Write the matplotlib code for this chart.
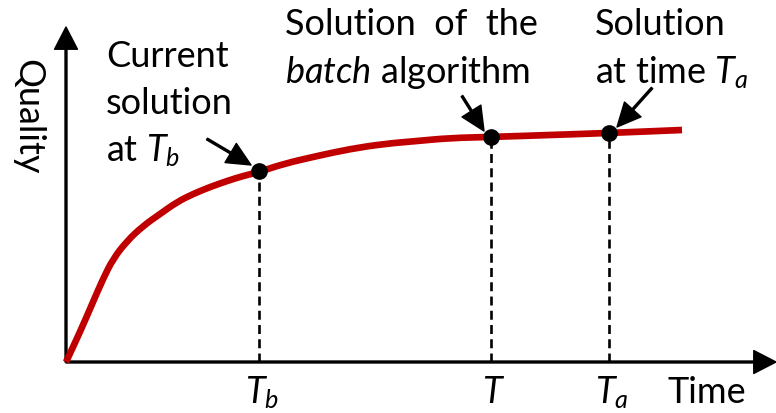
import matplotlib
matplotlib.use('Agg')
import matplotlib.pyplot as plt
from matplotlib.path import Path
from matplotlib.patches import PathPatch

plt.rcParams['font.family'] = ['Lato', 'DejaVu Sans']
plt.rcParams['mathtext.fontset'] = 'custom'
plt.rcParams['mathtext.rm'] = 'Lato'
plt.rcParams['mathtext.it'] = 'Lato:italic'

# quality curve (time, quality)
curve_t = [0, 14, 27, 37, 47, 61, 77, 94, 111, 127, 144, 161, 177, 193,
           217, 251, 284, 317, 351, 384, 424, 484, 543, 616]
curve_q = [0, 30, 60, 83, 103, 121, 136, 148, 160, 168, 175, 181, 186, 190,
           198, 206, 213, 218, 221, 224, 225, 227, 229, 232]

# marked solutions
sol_t = [193, 425, 543]
sol_q = [191, 225, 229]
sol_labels = ['$T_b$', '$T$', '$T_a$']

RED = '#C00000'
FS = 26


def smooth_path(xs, ys):
    # quadratic pieces through the midpoints, read points as control points
    pts = list(zip(xs, ys))
    mid = lambda a, b: ((a[0] + b[0]) / 2, (a[1] + b[1]) / 2)
    verts = [pts[0], mid(pts[0], pts[1])]
    codes = [Path.MOVETO, Path.LINETO]
    for i in range(1, len(pts) - 1):
        verts += [pts[i], mid(pts[i], pts[i + 1])]
        codes += [Path.CURVE3, Path.CURVE3]
    verts.append(pts[-1])
    codes.append(Path.LINETO)
    return Path(verts, codes)


fig = plt.figure(figsize=(7.76, 4.14), dpi=100)
ax = fig.add_axes([0, 0, 1, 1])
ax.set_xlim(-66, 710)
ax.set_ylim(-51, 363)
ax.axis('off')

# axes with arrow heads
axprops = dict(width=1.4, headwidth=16.5, headlength=16, facecolor='black',
               edgecolor='black', shrink=0)
ax.annotate('', xy=(0, 335), xytext=(0, 0), arrowprops=axprops)
ax.annotate('', xy=(710, 0), xytext=(0, 0), arrowprops=axprops)

ax.add_patch(PathPatch(smooth_path(curve_t, curve_q), fill=False,
                       edgecolor=RED, lw=4.8, capstyle='butt',
                       joinstyle='round', zorder=3))

for t, q, lab in zip(sol_t, sol_q, sol_labels):
    ax.plot([t, t], [0, q], color='black', lw=1.9, ls=(0, (3.4, 2)), zorder=2)
    ax.text(t + 3, -40, lab, fontsize=FS, ha='center', va='baseline')
ax.plot(sol_t, sol_q, 'o', color='black', ms=11, zorder=4)

ax.text(-38, 246, 'Quality', fontsize=FS, rotation=270, ha='center', va='center')
ax.text(602, -40, 'Time', fontsize=FS, ha='left', va='baseline')

ax.text(40, 296, 'Current', fontsize=FS, va='baseline')
ax.text(40, 249, 'solution', fontsize=FS, va='baseline')
ax.text(40, 202, 'at $T_b$', fontsize=FS, va='baseline')

ax.text(219, 328, 'Solution  of  the', fontsize=FS, va='baseline')
ax.text(219, 280, r'$\mathit{batch}$ algorithm', fontsize=FS, va='baseline')

ax.text(529, 328, 'Solution', fontsize=FS, va='baseline')
ax.text(529, 280, 'at time $T_a$', fontsize=FS, va='baseline')

# pointer arrows
pprops = dict(width=1.4, headwidth=16, headlength=17, facecolor='black',
              edgecolor='black', shrink=0)
ax.annotate('', xy=(185, 197), xytext=(141, 223), arrowprops=pprops)
ax.annotate('', xy=(418, 231), xytext=(396, 266), arrowprops=pprops)
ax.annotate('', xy=(551, 235), xytext=(586, 274), arrowprops=pprops)

fig.savefig('out.png', dpi=100)
